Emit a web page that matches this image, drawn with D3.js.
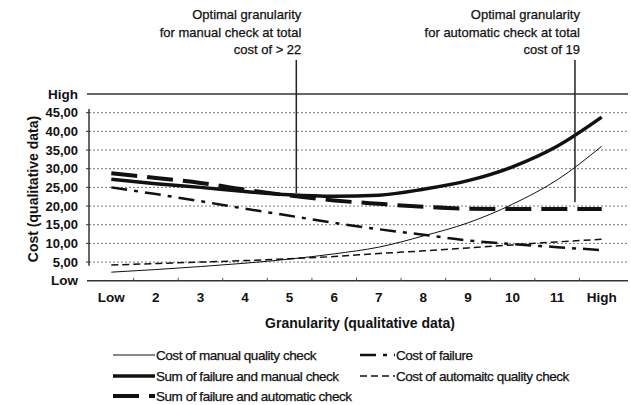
<!DOCTYPE html>
<html>
<head>
<meta charset="utf-8">
<script src="https://cdn.jsdelivr.net/npm/d3@7"></script>
<style>
body { margin: 0; background: #fff; }
text { font-family: "Liberation Sans", Arial, sans-serif; fill: #111; }
</style>
</head>
<body>
<div id="chart"></div>
<script>
// categories on the x axis
var categories = ["Low", "2", "3", "4", "5", "6", "7", "8", "9", "10", "11", "High"];

// series values
var manualCheck    = [2.3, 3.0, 3.8, 4.7, 5.8, 7.2, 9.0, 12.0, 15.5, 20.5, 27.0, 36.0];
var failureCost    = [25.0, 23.2, 21.3, 19.3, 17.4, 15.5, 13.8, 12.3, 10.8, 9.8, 9.0, 8.2];
var sumManual      = [27.2, 26.0, 25.0, 23.9, 23.0, 22.6, 22.9, 24.5, 26.8, 30.5, 36.0, 43.8];
var automaticCheck = [4.2, 4.6, 5.0, 5.4, 5.9, 6.5, 7.3, 8.0, 8.8, 9.6, 10.4, 11.1];
var sumAutomatic   = [28.8, 27.5, 26.2, 24.4, 22.8, 21.5, 20.6, 19.8, 19.3, 19.2, 19.2, 19.2];

// y tick labels
var yTicks = [5, 10, 15, 20, 25, 30, 35, 40, 45];
var yEnds = [{ value: 0, label: "Low" }, { value: 50, label: "High" }];

// annotation: position on category index, lower end in cost units
var annotations = [
    { at: 4.15, to: 23.5, lines: ["Optimal granularity", "for manual check at total", "cost of > 22"] },
    { at: 10.4, to: 21.0, lines: ["Optimal granularity", "for automatic check at total", "cost of 19"] }
];

var width = 631, height = 405;
var margin = { top: 94, right: 7, bottom: 123, left: 89 };

var svg = d3.select("#chart")
    .append("svg")
    .attr("width", width)
    .attr("height", height);

var x = d3.scaleBand()
    .domain(categories)
    .range([margin.left, width - margin.right]);

var xi = d3.scaleLinear()
    .domain([0, categories.length - 1])
    .range([x(categories[0]) + x.bandwidth() / 2, x(categories[categories.length - 1]) + x.bandwidth() / 2]);

var y = d3.scaleLinear()
    .domain([0, 50])
    .range([height - margin.bottom - 1.25, margin.top]);

// dotted grid lines
svg.append("g").selectAll("line")
    .data(yTicks)
    .enter().append("line")
    .attr("x1", margin.left)
    .attr("x2", width - 3)
    .attr("y1", function(d) { return y(d); })
    .attr("y2", function(d) { return y(d); })
    .attr("stroke", "#777")
    .attr("stroke-width", 1)
    .attr("stroke-dasharray", "2,2");

// High / Low lines
svg.append("g").selectAll("line")
    .data(yEnds)
    .enter().append("line")
    .attr("x1", margin.left - 2)
    .attr("x2", width - 3)
    .attr("y1", function(d) { return y(d.value); })
    .attr("y2", function(d) { return y(d.value); })
    .attr("stroke", "#333")
    .attr("stroke-width", 1.5);

// y axis
var yAxis = svg.append("g")
    .attr("transform", "translate(" + margin.left + ",0)");
yAxis.append("line")
    .attr("y1", y(46))
    .attr("y2", y(4))
    .attr("stroke", "#333")
    .attr("stroke-width", 1.5);
yAxis.selectAll(".tick")
    .data(yTicks)
    .enter().append("line")
    .attr("x1", -3)
    .attr("x2", 0)
    .attr("y1", function(d) { return y(d); })
    .attr("y2", function(d) { return y(d); })
    .attr("stroke", "#333");
yAxis.selectAll(".lab")
    .data(yTicks)
    .enter().append("text")
    .attr("x", -11)
    .attr("y", function(d) { return y(d); })
    .attr("dy", "0.35em")
    .attr("text-anchor", "end")
    .style("font-size", "13px")
    .style("font-weight", "bold")
    .text(function(d) { return d3.format(".2f")(d).replace(".", ","); });
yAxis.selectAll(".end")
    .data(yEnds)
    .enter().append("text")
    .attr("x", -11)
    .attr("y", function(d) { return y(d.value); })
    .attr("dy", "0.35em")
    .attr("text-anchor", "end")
    .style("font-size", "13.5px")
    .style("font-weight", "bold")
    .text(function(d) { return d.label; });

// x axis ticks at band boundaries and labels
var xAxis = svg.append("g");
xAxis.selectAll("line")
    .data(categories.slice(1))
    .enter().append("line")
    .attr("x1", function(d) { return x(d); })
    .attr("x2", function(d) { return x(d); })
    .attr("y1", y(0) - 3)
    .attr("y2", y(0))
    .attr("stroke", "#555");
xAxis.selectAll("text")
    .data(categories)
    .enter().append("text")
    .attr("x", function(d) { return x(d) + x.bandwidth() / 2; })
    .attr("y", y(0) + 21)
    .attr("text-anchor", "middle")
    .style("font-size", "13.5px")
    .style("font-weight", "bold")
    .text(function(d) { return d; });

// axis titles
svg.append("text")
    .attr("x", 360)
    .attr("y", 328)
    .attr("text-anchor", "middle")
    .style("font-size", "14px")
    .style("font-weight", "bold")
    .text("Granularity (qualitative data)");

svg.append("text")
    .attr("transform", "rotate(-90)")
    .attr("x", -189)
    .attr("y", 38)
    .attr("text-anchor", "middle")
    .style("font-size", "14px")
    .style("font-weight", "bold")
    .text("Cost (qualitative data)");

// series
var series = [
    { name: "Cost of manual quality check", values: manualCheck, width: 1, dash: null },
    { name: "Cost of failure", values: failureCost, width: 2.5, dash: "16,7,4,7" },
    { name: "Sum of failure and manual check", values: sumManual, width: 3.5, dash: null },
    { name: "Cost of automaitc quality check", values: automaticCheck, width: 1.5, dash: "7,4" },
    { name: "Sum of failure and automatic check", values: sumAutomatic, width: 4, dash: "26,10" }
];

var line = d3.line()
    .x(function(d, i) { return xi(i); })
    .y(function(d) { return y(d); })
    .curve(d3.curveMonotoneX);

svg.append("g").selectAll("path")
    .data(series)
    .enter().append("path")
    .attr("d", function(d) { return line(d.values); })
    .attr("fill", "none")
    .attr("stroke", "#111")
    .attr("stroke-width", function(d) { return d.width; })
    .attr("stroke-dasharray", function(d) { return d.dash; });

// annotations
var ann = svg.append("g").selectAll("g")
    .data(annotations)
    .enter().append("g");
ann.append("line")
    .attr("x1", function(d) { return xi(d.at); })
    .attr("x2", function(d) { return xi(d.at); })
    .attr("y1", 60)
    .attr("y2", function(d) { return y(d.to); })
    .attr("stroke", "#222")
    .attr("stroke-width", 1.5);
ann.each(function(d) {
    var t = d3.select(this).append("text")
        .attr("text-anchor", "end")
        .style("font-size", "13px")
        .style("stroke", "#111")
        .style("stroke-width", "0.25px");
    d.lines.forEach(function(s, k) {
        t.append("tspan")
            .attr("x", xi(d.at) + 5)
            .attr("y", 19 + k * 17.5)
            .text(s);
    });
});

// legend
var legendPos = [
    { x: 113, y: 355, w: 42 },
    { x: 360, y: 355, w: 35 },
    { x: 113, y: 376, w: 42 },
    { x: 360, y: 376, w: 35 },
    { x: 113, y: 396, w: 42 }
];
var legendOrder = [0, 1, 2, 3, 4];
var leg = svg.append("g").selectAll("g")
    .data(legendOrder)
    .enter().append("g")
    .attr("transform", function(d, i) { return "translate(" + legendPos[i].x + "," + legendPos[i].y + ")"; });
leg.append("line")
    .attr("x1", 0)
    .attr("x2", function(d, i) { return legendPos[i].w; })
    .attr("stroke", "#111")
    .attr("stroke-width", function(d) { return series[d].width; })
    .attr("stroke-dasharray", function(d) { return series[d].dash; });
leg.append("text")
    .attr("x", function(d, i) { return legendPos[i].w + 1; })
    .attr("dy", "0.35em")
    .style("font-size", "13.5px")
    .style("letter-spacing", "-0.45px")
    .style("stroke", "#111")
    .style("stroke-width", "0.25px")
    .text(function(d) { return series[d].name; });
</script>
</body>
</html>
